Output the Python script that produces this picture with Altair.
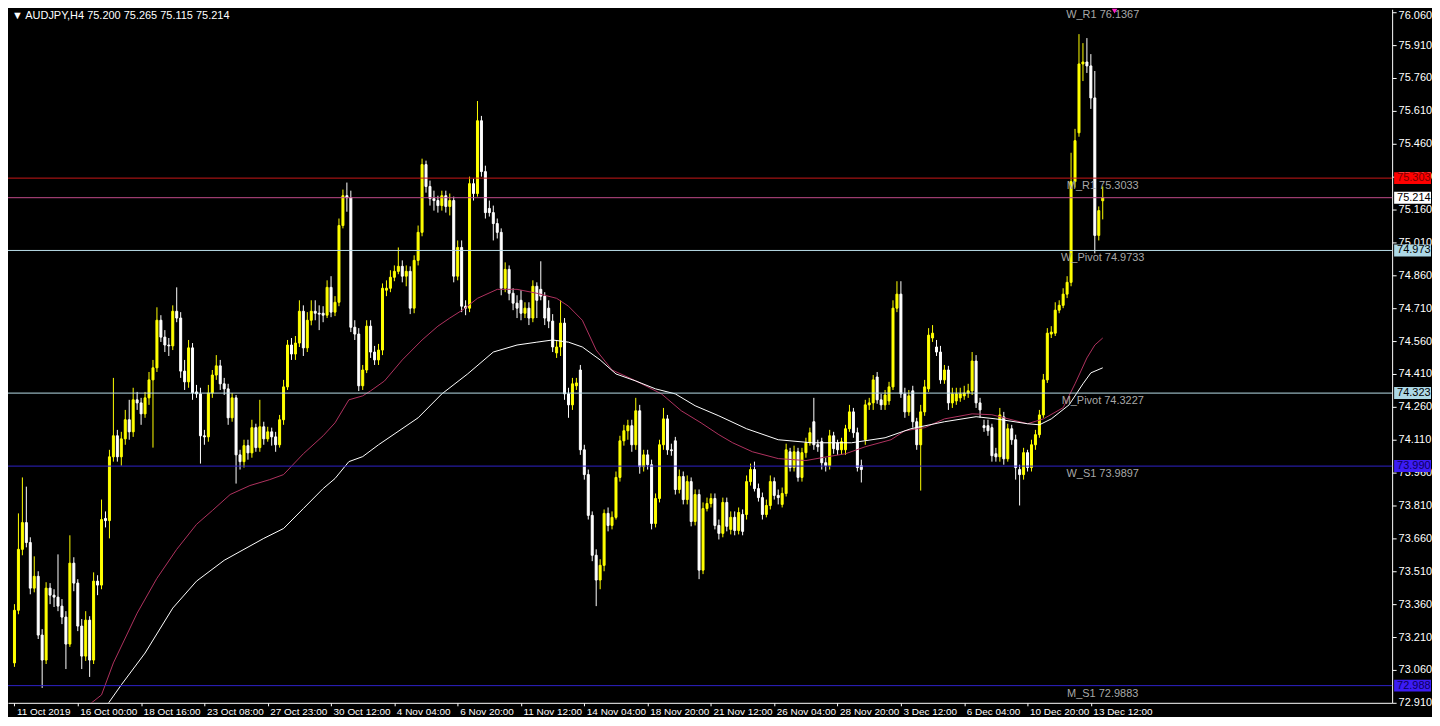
import json
import altair as alt
import pandas as pd

SYMBOL = "AUDJPY"
TIMEFRAME = "H4"

OPEN = [
    73.092, 73.332, 73.610, 73.732, 73.641, 73.433, 73.487, 73.219, 73.105, 73.433,
    73.401, 73.392, 73.351, 73.301, 73.178, 73.547, 73.456, 73.260, 73.123, 73.287,
    73.105, 73.465, 73.447, 73.751, 73.741, 74.032, 74.128, 74.032, 74.114, 74.201,
    74.146, 74.292, 74.278, 74.228, 74.301, 74.383, 74.438, 74.655, 74.578, 74.542,
    74.538, 74.696, 74.665, 74.423, 74.374, 74.529, 74.328, 74.319, 74.128, 74.123,
    74.323, 74.405, 74.447, 74.365, 74.342, 74.210, 74.301, 74.041, 74.010, 74.083,
    74.050, 74.165, 74.074, 74.169, 74.114, 74.146, 74.123, 74.087, 74.201, 74.351,
    74.542, 74.501, 74.551, 74.696, 74.529, 74.655, 74.696, 74.687, 74.687, 74.678,
    74.805, 74.692, 74.737, 75.087, 75.223, 75.214, 74.623, 74.592, 74.356, 74.428,
    74.628, 74.510, 74.474, 74.519, 74.792, 74.801, 74.851, 74.878, 74.901, 74.856,
    74.878, 74.710, 74.928, 75.056, 75.365, 75.265, 75.210, 75.201, 75.178, 75.223,
    75.174, 75.201, 74.856, 74.987, 74.719, 74.710, 75.278, 75.233, 75.565, 75.333,
    75.165, 75.146, 75.096, 75.056, 74.801, 74.887, 74.778, 74.733, 74.746, 74.687,
    74.710, 74.665, 74.810, 74.796, 74.765, 74.710, 74.651, 74.506, 74.533, 74.642,
    74.319, 74.269, 74.356, 74.428, 74.064, 73.951, 73.765, 73.583, 73.470, 73.537,
    73.774, 73.719, 73.756, 73.938, 74.105, 74.151, 74.174, 74.087, 74.242, 73.987,
    74.041, 73.996, 73.728, 73.842, 74.087, 74.205, 74.064, 74.105, 73.883, 73.942,
    73.837, 73.919, 73.737, 73.860, 73.515, 73.796, 73.819, 73.842, 73.719, 73.683,
    73.824, 73.701, 73.756, 73.696, 73.769, 73.769, 73.919, 73.974, 73.887, 73.846,
    73.769, 73.810, 73.919, 73.856, 73.815, 73.865, 74.055, 73.983, 74.055, 73.938,
    74.051, 74.096, 74.192, 74.087, 74.101, 74.005, 73.992, 74.128, 74.096, 74.064,
    74.064, 74.160, 74.237, 74.142, 73.992, 74.110, 74.269, 74.278, 74.396, 74.292,
    74.269, 74.287, 74.351, 74.710, 74.774, 74.319, 74.237, 74.333, 74.192, 74.087,
    74.237, 74.342, 74.574, 74.533, 74.510, 74.383, 74.428, 74.278, 74.287, 74.301,
    74.310, 74.323, 74.333, 74.469, 74.278, 74.174, 74.174, 74.165, 74.046, 74.032,
    74.214, 74.023, 74.160, 74.110, 73.974, 73.951, 74.051, 73.983, 74.087, 74.133,
    74.223, 74.383, 74.592, 74.596, 74.701, 74.723, 74.774, 74.828, 75.287, 75.510,
    75.824, 75.833, 75.815, 75.669, 75.042, 75.200,
]

HIGH = [
    73.360, 73.774, 73.938, 73.896, 73.665, 73.578, 73.510, 73.246, 73.460, 73.456,
    73.428, 73.587, 73.383, 73.328, 73.674, 73.574, 73.474, 73.292, 73.328, 73.305,
    73.505, 73.492, 73.837, 73.783, 74.064, 74.392, 74.155, 74.146, 74.246, 74.292,
    74.347, 74.328, 74.301, 74.328, 74.419, 74.474, 74.714, 74.678, 74.610, 74.574,
    74.723, 74.805, 74.692, 74.474, 74.565, 74.551, 74.360, 74.347, 74.155, 74.360,
    74.428, 74.496, 74.474, 74.392, 74.365, 74.323, 74.314, 74.064, 74.110, 74.110,
    74.201, 74.183, 74.292, 74.192, 74.169, 74.165, 74.146, 74.223, 74.383, 74.565,
    74.574, 74.583, 74.746, 74.723, 74.692, 74.746, 74.746, 74.723, 74.719, 74.837,
    74.856, 74.765, 75.119, 75.251, 75.283, 75.246, 74.655, 74.619, 74.451, 74.655,
    74.655, 74.538, 74.547, 74.823, 74.837, 74.883, 74.905, 74.987, 74.928, 74.905,
    74.901, 74.951, 75.087, 75.392, 75.383, 75.292, 75.246, 75.223, 75.246, 75.246,
    75.233, 75.219, 75.019, 75.019, 74.746, 75.310, 75.301, 75.655, 75.587, 75.360,
    75.201, 75.178, 75.119, 75.074, 74.919, 74.905, 74.801, 74.769, 74.792, 74.737,
    74.737, 74.837, 74.828, 74.924, 74.783, 74.746, 74.683, 74.565, 74.746, 74.665,
    74.347, 74.392, 74.392, 74.451, 74.087, 73.974, 73.783, 73.610, 73.565, 73.792,
    73.801, 73.783, 73.965, 74.128, 74.178, 74.201, 74.201, 74.301, 74.269, 74.064,
    74.064, 74.019, 73.865, 74.110, 74.255, 74.223, 74.092, 74.123, 73.974, 73.965,
    73.947, 73.938, 73.883, 73.883, 73.824, 73.846, 73.865, 73.865, 73.746, 73.846,
    73.846, 73.783, 73.783, 73.801, 73.792, 73.947, 74.001, 74.010, 73.910, 73.869,
    73.837, 73.947, 73.938, 73.883, 73.892, 74.092, 74.073, 74.083, 74.073, 74.073,
    74.119, 74.165, 74.301, 74.110, 74.119, 74.028, 74.155, 74.146, 74.110, 74.119,
    74.178, 74.269, 74.255, 74.165, 74.019, 74.292, 74.301, 74.405, 74.419, 74.319,
    74.337, 74.374, 74.746, 74.833, 74.833, 74.347, 74.337, 74.356, 74.210, 74.269,
    74.383, 74.619, 74.633, 74.565, 74.538, 74.451, 74.447, 74.347, 74.347, 74.347,
    74.356, 74.365, 74.510, 74.496, 74.301, 74.201, 74.201, 74.183, 74.073, 74.255,
    74.237, 74.183, 74.178, 74.133, 73.996, 74.073, 74.064, 74.110, 74.155, 74.246,
    74.410, 74.619, 74.628, 74.737, 74.746, 74.801, 74.856, 75.419, 75.528, 75.960,
    75.919, 75.942, 75.869, 75.792, 75.174, 75.265,
]

LOW = [
    73.074, 73.314, 73.583, 73.619, 73.405, 73.414, 73.201, 72.978, 73.087, 73.360,
    73.347, 73.328, 73.269, 73.064, 73.165, 73.419, 73.237, 73.064, 73.101, 73.028,
    73.087, 73.401, 73.428, 73.710, 73.660, 74.010, 74.010, 73.992, 74.087, 74.110,
    74.123, 74.246, 74.178, 74.210, 74.269, 74.074, 74.419, 74.556, 74.510, 74.492,
    74.519, 74.646, 74.392, 74.337, 74.347, 74.292, 74.301, 74.001, 74.087, 74.101,
    74.301, 74.383, 74.337, 74.314, 74.178, 74.192, 73.910, 73.974, 73.983, 74.019,
    74.028, 74.055, 74.055, 74.087, 74.101, 74.083, 74.055, 74.074, 74.178, 74.337,
    74.474, 74.474, 74.533, 74.492, 74.510, 74.632, 74.655, 74.610, 74.646, 74.665,
    74.669, 74.674, 74.719, 75.074, 75.150, 74.601, 74.565, 74.332, 74.337, 74.414,
    74.483, 74.451, 74.451, 74.496, 74.765, 74.783, 74.833, 74.865, 74.828, 74.810,
    74.683, 74.687, 74.905, 75.038, 75.237, 75.178, 75.155, 75.146, 75.155, 75.146,
    75.133, 74.828, 74.837, 74.692, 74.678, 74.692, 75.201, 75.219, 75.310, 75.119,
    75.128, 75.019, 75.028, 74.769, 74.783, 74.746, 74.701, 74.665, 74.655, 74.665,
    74.633, 74.646, 74.665, 74.746, 74.633, 74.619, 74.510, 74.483, 74.492, 74.292,
    74.210, 74.246, 74.337, 74.041, 73.928, 73.746, 73.556, 73.351, 73.428, 73.510,
    73.692, 73.701, 73.746, 73.919, 74.083, 74.110, 74.055, 74.064, 73.955, 73.965,
    73.974, 73.701, 73.710, 73.824, 74.064, 74.041, 74.037, 73.860, 73.865, 73.815,
    73.815, 73.715, 73.719, 73.474, 73.497, 73.783, 73.801, 73.701, 73.655, 73.665,
    73.692, 73.678, 73.674, 73.678, 73.674, 73.746, 73.901, 73.874, 73.828, 73.746,
    73.756, 73.792, 73.837, 73.815, 73.801, 73.851, 73.965, 73.965, 73.919, 73.919,
    74.028, 74.083, 74.064, 74.055, 73.974, 73.965, 73.974, 74.046, 74.041, 74.041,
    74.041, 74.146, 74.119, 73.965, 73.915, 74.087, 74.246, 74.246, 74.274, 74.246,
    74.246, 74.269, 74.337, 74.692, 74.301, 74.210, 74.219, 74.165, 74.064, 73.878,
    74.219, 74.328, 74.556, 74.492, 74.365, 74.365, 74.246, 74.255, 74.269, 74.283,
    74.292, 74.301, 74.314, 74.255, 74.210, 74.146, 74.128, 74.010, 74.010, 74.010,
    73.996, 74.010, 74.087, 73.928, 73.810, 73.928, 73.965, 73.965, 74.064, 74.119,
    74.210, 74.369, 74.574, 74.583, 74.687, 74.710, 74.756, 74.810, 75.260, 75.492,
    75.746, 75.783, 75.619, 74.960, 75.019, 75.115,
]

CLOSE = [
    73.332, 73.610, 73.732, 73.641, 73.433, 73.487, 73.219, 73.105, 73.433, 73.401,
    73.392, 73.351, 73.301, 73.178, 73.547, 73.456, 73.260, 73.123, 73.287, 73.105,
    73.465, 73.447, 73.746, 73.741, 74.032, 74.128, 74.032, 74.114, 74.201, 74.146,
    74.292, 74.278, 74.228, 74.301, 74.383, 74.438, 74.655, 74.578, 74.542, 74.538,
    74.696, 74.665, 74.423, 74.374, 74.529, 74.323, 74.319, 74.128, 74.123, 74.323,
    74.405, 74.447, 74.365, 74.342, 74.210, 74.301, 74.041, 74.010, 74.083, 74.050,
    74.165, 74.074, 74.169, 74.114, 74.146, 74.123, 74.087, 74.201, 74.351, 74.542,
    74.501, 74.551, 74.696, 74.529, 74.655, 74.696, 74.687, 74.683, 74.678, 74.805,
    74.692, 74.737, 75.087, 75.223, 75.214, 74.623, 74.592, 74.356, 74.428, 74.628,
    74.510, 74.474, 74.519, 74.801, 74.801, 74.851, 74.878, 74.901, 74.856, 74.878,
    74.710, 74.928, 75.056, 75.365, 75.265, 75.210, 75.201, 75.178, 75.223, 75.174,
    75.201, 74.856, 74.987, 74.719, 74.710, 75.278, 75.233, 75.565, 75.333, 75.146,
    75.146, 75.096, 75.056, 74.801, 74.887, 74.778, 74.733, 74.710, 74.687, 74.710,
    74.665, 74.810, 74.746, 74.765, 74.665, 74.651, 74.533, 74.533, 74.642, 74.319,
    74.269, 74.365, 74.369, 74.064, 73.951, 73.765, 73.583, 73.470, 73.537, 73.774,
    73.719, 73.756, 73.938, 74.105, 74.151, 74.174, 74.087, 74.242, 73.987, 74.041,
    73.996, 73.728, 73.842, 74.087, 74.205, 74.064, 74.060, 73.883, 73.942, 73.837,
    73.919, 73.737, 73.860, 73.515, 73.796, 73.819, 73.842, 73.719, 73.683, 73.824,
    73.715, 73.756, 73.696, 73.778, 73.692, 73.919, 73.974, 73.887, 73.846, 73.769,
    73.810, 73.919, 73.856, 73.846, 73.865, 74.064, 73.983, 74.055, 73.938, 74.051,
    74.096, 74.142, 74.087, 74.078, 74.005, 73.992, 74.128, 74.069, 74.064, 74.101,
    74.160, 74.237, 74.142, 73.983, 73.974, 74.269, 74.278, 74.383, 74.292, 74.269,
    74.314, 74.351, 74.710, 74.774, 74.319, 74.237, 74.310, 74.192, 74.087, 74.237,
    74.351, 74.587, 74.596, 74.510, 74.383, 74.428, 74.278, 74.319, 74.319, 74.319,
    74.323, 74.333, 74.469, 74.278, 74.246, 74.165, 74.151, 74.037, 74.032, 74.223,
    74.023, 74.160, 74.110, 73.983, 73.951, 74.051, 73.983, 74.087, 74.133, 74.223,
    74.383, 74.596, 74.601, 74.701, 74.723, 74.774, 74.828, 75.287, 75.474, 75.824,
    75.833, 75.815, 75.669, 75.042, 75.155, 75.214,
]

# Moving averages (bar index, price)
FAST_MA_BARS = [18.5, 22, 25, 31, 36, 41, 46, 50, 54.5, 59.5, 64.5, 68, 73, 78, 81, 84.5, 88, 90,
                93.5, 98, 103, 107, 110, 113.5, 117, 122, 127, 132, 137, 140, 143.5, 147, 151,
                156, 158.5, 163.5, 168.5, 173.5, 178, 181.5, 186.5, 193, 200, 204, 210, 215,
                221.5, 225, 230, 235, 242, 247, 256, 260, 265, 268, 271, 273, 275]
FAST_MA_VALUES = [72.896, 72.946, 73.092, 73.319, 73.478, 73.610, 73.724, 73.787, 73.860, 73.901,
                  73.928, 73.951, 74.046, 74.128, 74.187, 74.292, 74.310, 74.333, 74.378, 74.474,
                  74.565, 74.628, 74.665, 74.705, 74.755, 74.796, 74.796, 74.778, 74.755, 74.719,
                  74.655, 74.519, 74.428, 74.387, 74.365, 74.319, 74.242, 74.187, 74.133, 74.096,
                  74.055, 74.024, 74.015, 74.028, 74.046, 74.078, 74.110, 74.151, 74.165, 74.205,
                  74.228, 74.224, 74.183, 74.205, 74.256, 74.365, 74.483, 74.542, 74.574]
SLOW_MA_BARS = [22.75, 27, 33, 40, 46, 53, 58, 63, 68, 73, 78, 81, 84.5, 88, 92, 102, 108, 114.5,
                121, 127, 132, 136, 140, 143.5, 148, 152, 157, 162, 167, 172, 178, 185, 193,
                201.5, 211.5, 220, 226.5, 235, 243, 248, 256, 259, 262, 266.5, 270, 272, 275]
SLOW_MA_VALUES = [72.883, 72.992, 73.137, 73.342, 73.465, 73.560, 73.610, 73.660, 73.705, 73.796,
                  73.887, 73.933, 74.010, 74.033, 74.087, 74.210, 74.319, 74.410, 74.510, 74.542,
                  74.555, 74.565, 74.555, 74.533, 74.474, 74.410, 74.378, 74.342, 74.319, 74.265,
                  74.219, 74.160, 74.110, 74.096, 74.096, 74.119, 74.160, 74.192, 74.215, 74.205,
                  74.183, 74.178, 74.205, 74.269, 74.365, 74.415, 74.438]

# Horizontal levels
LINE_NAMES = ["M_R1", "Bid", "W_Pivot", "M_Pivot", "W_S1", "M_S1"]
LINE_PRICES = [75.3033, 75.214, 74.9733, 74.3227, 73.9897, 72.9883]
PIVOT_NAMES = ["M_R1", "W_Pivot", "M_Pivot", "W_S1", "M_S1"]
PIVOT_VALUES = [75.3033, 74.9733, 74.3227, 73.9897, 72.9883]
TOP_PIVOT_NAME = "W_R1"
TOP_PIVOT_VALUE = 76.1367

# Axis ticks
Y_TICKS = [76.060, 75.910, 75.760, 75.610, 75.460, 75.310, 75.160, 75.010, 74.860, 74.710, 74.560,
           74.410, 74.260, 74.110, 73.960, 73.810, 73.660, 73.510, 73.360, 73.210, 73.060, 72.910]
X_LABEL_BARS = [0, 16, 32, 48, 64, 80, 96, 112, 128, 144, 160, 176, 192, 208, 224, 240, 256, 272]
X_LABELS = ["11 Oct 2019", "16 Oct 00:00", "18 Oct 16:00", "23 Oct 08:00", "27 Oct 23:00",
            "30 Oct 12:00", "4 Nov 04:00", "6 Nov 20:00", "11 Nov 12:00", "14 Nov 04:00",
            "18 Nov 20:00", "21 Nov 12:00", "26 Nov 04:00", "28 Nov 20:00", "3 Dec 12:00",
            "6 Dec 04:00", "10 Dec 20:00", "13 Dec 12:00"]

# ---------------------------------------------------------------------------
n = len(CLOSE)
bars = pd.DataFrame({"bar": list(range(n)), "open": OPEN, "high": HIGH,
                     "low": LOW, "close": CLOSE})
fast = pd.DataFrame({"bar": FAST_MA_BARS, "v": FAST_MA_VALUES})
slow = pd.DataFrame({"bar": SLOW_MA_BARS, "v": SLOW_MA_VALUES})
lines = pd.DataFrame({"name": LINE_NAMES, "price": LINE_PRICES,
                      "txt": [f"{p:.3f}" for p in LINE_PRICES]})
pivots = pd.DataFrame({"bar": [n - 1] * len(PIVOT_NAMES), "price": PIVOT_VALUES,
                       "txt": [f"{a} {b:.4f}" for a, b in zip(PIVOT_NAMES, PIVOT_VALUES)]})
top_pivot = pd.DataFrame({"bar": [n - 1], "mark_bar": [n + 2],
                          "txt": [f"{TOP_PIVOT_NAME} {TOP_PIVOT_VALUE:.4f}"]})
header = pd.DataFrame({"txt": [f"\u25bc {SYMBOL},{TIMEFRAME}  {OPEN[-1]:.3f} {HIGH[-1]:.3f} "
                               f"{LOW[-1]:.3f} {CLOSE[-1]:.3f}"]})

PLOT_W, PLOT_H = 1389, 696
FONT = "Liberation Sans"
xs = alt.Scale(domain=[-0.375, 346.875], nice=False, zero=False)
ys = alt.Scale(domain=[72.91, 76.0736], nice=False, zero=False)

label_expr = json.dumps(X_LABELS) + "[indexof(" + json.dumps(X_LABEL_BARS) + ", datum.value)]"
x_axis = alt.Axis(values=X_LABEL_BARS, labelExpr=label_expr, orient="bottom", grid=False,
                  title=None, domainColor="#ffffff", tickColor="#ffffff", tickSize=3,
                  labelColor="#ffffff", labelFont=FONT, labelFontSize=10, labelAlign="left",
                  labelBaseline="top", labelPadding=1, labelOffset=2, labelFlush=False,
                  labelOverlap=False)
y_axis = alt.Axis(values=Y_TICKS, format=".3f", orient="right", grid=False, title=None,
                  domainColor="#ffffff", tickColor="#ffffff", tickSize=4, labelColor="#ffffff",
                  labelFont=FONT, labelFontSize=11, labelPadding=2, labelFlush=False,
                  labelOverlap=False, labelBaseline="middle",
                  labelOffset={"condition": {"test": f"datum.value > {Y_TICKS[1]}", "value": 3},
                               "value": 0})


def X(field):
    return alt.X(field, type="quantitative", scale=xs, axis=x_axis)


def Y(field):
    return alt.Y(field, type="quantitative", scale=ys, axis=y_axis)


up_cond = "datum.close >= datum.open"
candle_color = alt.condition(up_cond, alt.value("#ffff00"), alt.value("#ffffff"))

wicks = alt.Chart(bars).mark_rule(strokeWidth=1).encode(
    x=X("bar"), y=Y("low"), y2="high", color=candle_color)
bodies = alt.Chart(bars).mark_bar(size=2, strokeWidth=1).encode(
    x=X("bar"), y=Y("open"), y2="close", color=candle_color, stroke=candle_color)
fast_line = alt.Chart(fast).mark_line(strokeWidth=1, color="#b0325f", clip=True).encode(
    x=X("bar"), y=Y("v"))
slow_line = alt.Chart(slow).mark_line(strokeWidth=1, color="#ffffff", clip=True).encode(
    x=X("bar"), y=Y("v"))

level_rules = alt.Chart(lines).mark_rule(strokeWidth=1).encode(
    y=Y("price"),
    color=alt.Color("name:N", legend=None, scale=alt.Scale(
        domain=LINE_NAMES,
        range=["#c81818", "#c04a8a", "#b9dde8", "#b9dde8", "#2e22c8", "#2e22c8"])),
)
pivot_text = alt.Chart(pivots).mark_text(align="center", baseline="top", dy=2, font=FONT,
                                         fontSize=11, color="#a8a8a8").encode(
    x=X("bar"), y=Y("price"), text="txt:N")
top_text = alt.Chart(top_pivot).mark_text(align="center", baseline="top", font=FONT,
                                          fontSize=11, color="#a8a8a8").encode(
    x=X("bar"), y=alt.value(0), text="txt:N")
top_marker = alt.Chart(top_pivot).mark_point(shape="triangle-down", size=30, filled=True,
                                             opacity=1, color="#ff1ec8").encode(
    x=X("mark_bar"), y=alt.value(2))

box_shape = "M-1,-0.3243L1,-0.3243L1,0.3243L-1,0.3243Z"
boxes = alt.Chart(lines).mark_point(shape=box_shape, size=1369, filled=True, opacity=1,
                                    strokeWidth=0).encode(
    x=alt.value(PLOT_W + 20.5),
    y=Y("price"),
    fill=alt.Fill("name:N", legend=None, scale=alt.Scale(
        domain=LINE_NAMES,
        range=["#ff0000", "#ffffff", "#add8e6", "#add8e6", "#3c1cf5", "#3c1cf5"])),
)
box_text = alt.Chart(lines).mark_text(align="left", baseline="middle", font=FONT,
                                      fontSize=11).encode(
    x=alt.value(PLOT_W + 5),
    y=Y("price"),
    text="txt:N",
    color=alt.Color("name:N", legend=None, scale=alt.Scale(
        domain=LINE_NAMES,
        range=["#7a0000", "#000000", "#000000", "#000000", "#0c0060", "#0c0060"])),
)
head = alt.Chart(header).mark_text(align="left", baseline="top", font=FONT, fontSize=11,
                                   color="#ffffff").encode(
    x=alt.value(4), y=alt.value(1), text="txt:N")

chart = alt.layer(
    wicks, bodies, fast_line, slow_line, level_rules, pivot_text, top_text, top_marker,
    boxes, box_text, head
).resolve_scale(
    color="independent", fill="independent"
).properties(
    width=PLOT_W, height=PLOT_H,
    padding={"left": 0, "top": 0, "right": 40, "bottom": 13},
    autosize=alt.AutoSizeParams(type="none"),
    background="#000000",
).configure_view(stroke="transparent")

chart.save("out.html", embed_options={"renderer": "svg", "actions": False})
